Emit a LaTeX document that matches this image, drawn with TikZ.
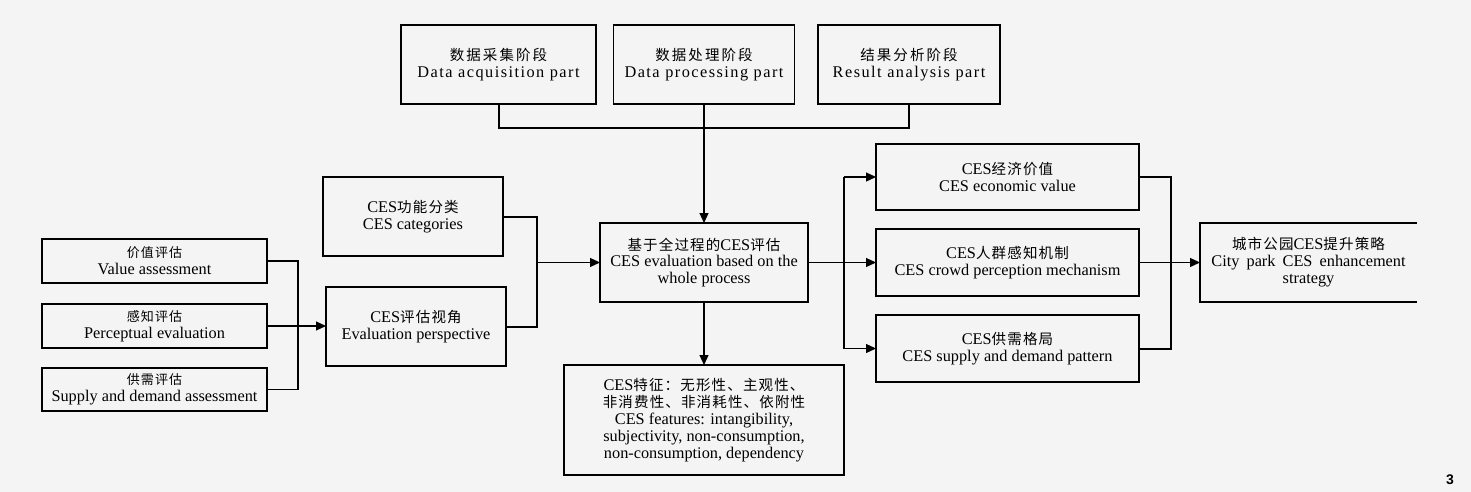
\documentclass[tikz,border=0pt]{standalone}
\usepackage{fontspec}
\setmainfont{Liberation Serif}
\newfontfamily\cjk{Noto Sans CJK SC}[LetterSpace=8]
\newfontfamily\cjkw{Noto Sans CJK SC}[LetterSpace=14]
\newfontfamily\spc{Liberation Serif}[LetterSpace=9]
\newfontfamily\lsans{Liberation Sans}
\usetikzlibrary{arrows.meta}
\definecolor{bg}{HTML}{F4F4F4}
\newcommand\zh[1]{{\cjk\fontsize{14.5}{16.7}\selectfont #1}}
\newcommand\zhw[1]{{\cjkw\fontsize{14.5}{16.7}\selectfont #1}}
\newcommand\zhs[1]{{\cjk\fontsize{13}{16.7}\selectfont #1}}
\begin{document}
\begin{tikzpicture}[x=1pt,y=-1pt,
  box/.style={draw, line width=1.4pt, inner sep=0pt, outer sep=0pt, align=center,
    font=\fontsize{16.3}{16.9}\selectfont},
  ln/.style={line width=1.2pt},
  br/.style={line width=2pt},
  arr/.style={-{Triangle[length=10pt,width=9pt]}}]
\useasboundingbox (0,0) rectangle (1471,492);
\fill[bg] (0,0) rectangle (1471,492);
% top row
\node[box, minimum width=195pt, minimum height=79pt] (acq) at (498.5,64.5)
  {\zhw{数据采集阶段}\\{\spc Data acquisition part}};
\node[box, minimum width=181pt, minimum height=79pt] (proc) at (704,64.5)
  {\zhw{数据处理阶段}\\{\spc Data processing part}};
\node[box, minimum width=182pt, minimum height=79pt] (res) at (909,64.5)
  {\zhw{结果分析阶段}\\{\spc Result analysis part}};
% left column
\node[box, minimum width=225pt, minimum height=44pt] (val) at (154.5,261)
  {\zhs{价值评估}\\Value assessment};
\node[box, minimum width=225pt, minimum height=44pt] (per) at (154.5,326)
  {\zhs{感知评估}\\Perceptual evaluation};
\node[box, minimum width=225pt, minimum height=43pt] (sup) at (154.5,389.5)
  {\zhs{供需评估}\\Supply and demand assessment};
% second column
\node[box, minimum width=180pt, minimum height=79pt] (cat) at (413,216.5)
  {CES\zh{功能分类}\\CES categories};
\node[box, minimum width=180pt, minimum height=79pt] (persp) at (416,326.5)
  {CES\zh{评估视角}\\Evaluation perspective};
% centre
\node[box, minimum width=208pt, minimum height=79pt] (center) at (704,262.5)
  {\zh{基于全过程的}CES\zh{评估}\\CES evaluation based on the\\whole process};
\node[box, minimum width=280pt, minimum height=110pt] (feat) at (704,420)
  {CES\zh{特征：无形性、主观性、}\\\zh{非消费性、非消耗性、依附性}\\CES features: intangibility,\\subjectivity, non-consumption,\\non-consumption, dependency};
% right column
\node[box, minimum width=263pt, minimum height=66pt] (econ) at (1007.5,177)
  {CES\zh{经济价值}\\CES economic value};
\node[box, minimum width=263pt, minimum height=67pt] (crowd) at (1007.5,262.5)
  {CES\zh{人群感知机制}\\CES crowd perception mechanism};
\node[box, minimum width=263pt, minimum height=67pt] (sd) at (1007.5,348.5)
  {CES\zh{供需格局}\\CES supply and demand pattern};
% strategy (open on the right)
\node[box, draw=none, minimum width=217pt, minimum height=79pt] (strat) at (1308.5,262.5)
  {\zh{城市公园}CES\zh{提升策略}\\City\hspace{3pt} park\hspace{3pt} CES\hspace{3pt} enhancement\\strategy};
\draw[line width=1.4pt] (strat.north east) -- (strat.north west) -- (strat.south west) -- (strat.south east);
% connectors
\draw[br] (acq.south) -- ++(0,24) -| (res.south);
\draw[ln,arr] (proc.south) -- (center.north);
\draw[ln] (val.east) -- ++(31,0) |- (sup.east);
\draw[ln,arr] (per.east) -- (per.east -| persp.west);
\draw[br] (cat.east) -- ++(34,0) |- (persp.east);
\coordinate (m1) at (537,262.5);
\draw[ln,arr] (m1) -- (center.west);
\draw[ln,arr] (center.south) -- (feat.north);
\draw[ln,arr] (center.east) -- (crowd.west);
\coordinate (rb) at (844,262.5);
\draw[ln] (econ.west -| rb) -- (sd.west -| rb);
\draw[ln,arr] (econ.west -| rb) -- (econ.west);
\draw[ln,arr] (sd.west -| rb) -- (sd.west);
\draw[br] (econ.east) -- ++(32,0) |- (sd.east);
\draw[ln,arr] (crowd.east) -- (strat.west);
\node[font=\lsans\bfseries\fontsize{14}{14}\selectfont] (fig) at (1450,480) {3};
\end{tikzpicture}
\end{document}
